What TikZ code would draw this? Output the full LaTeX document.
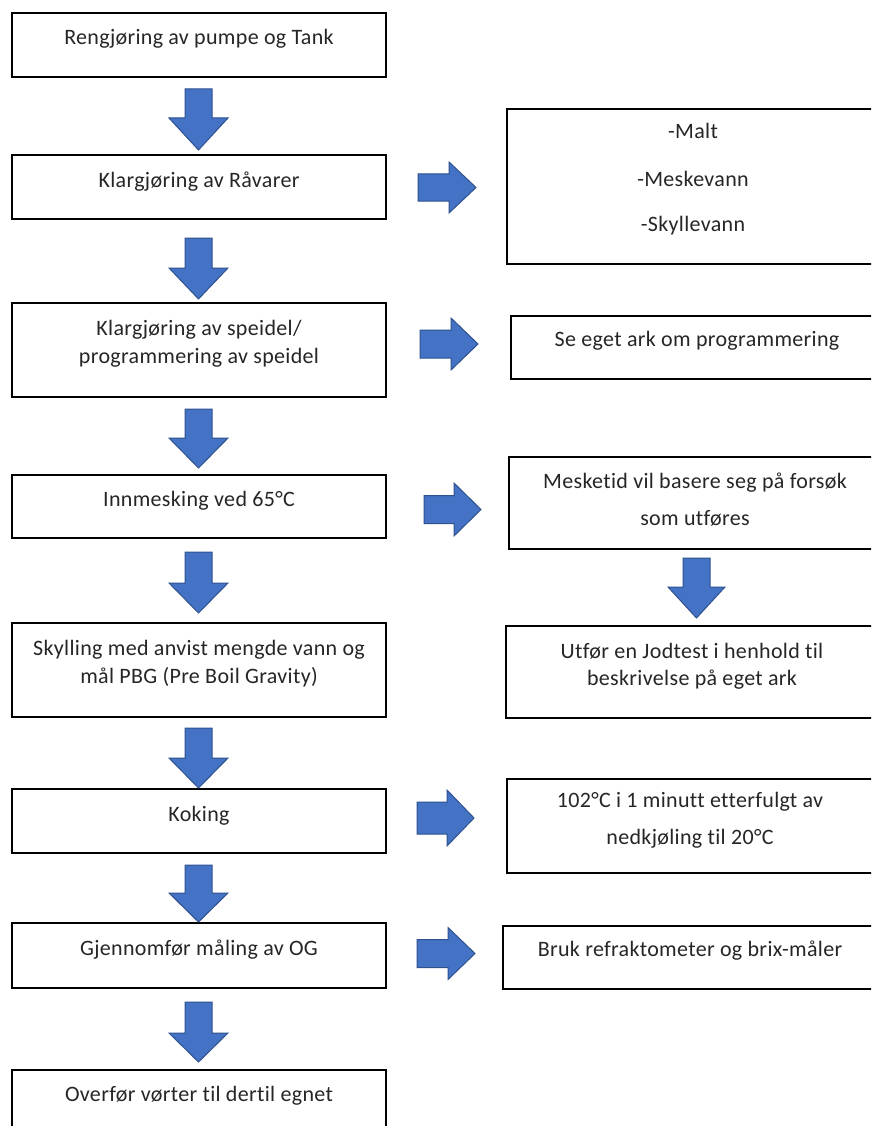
\documentclass[tikz,border=0pt]{standalone}
\usepackage{fontspec}
\setmainfont[LetterSpace=1.5,Ligatures=NoCommon]{Carlito}
\definecolor{arrfill}{HTML}{4472C4}
\definecolor{arrline}{HTML}{2F528F}
\newcommand\blockdown[6]{%
  \draw[blk] ({#1-#5},#2) -- ({#1+#5},#2) -- ({#1+#5},#3) -- ({#1+#6},#3) -- (#1,#4) -- ({#1-#6},#3) -- ({#1-#5},#3) -- cycle;}
\newcommand\blockright[6]{%
  \draw[blk] (#1,{#4-#5}) -- (#2,{#4-#5}) -- (#2,{#4-#6}) -- (#3,#4) -- (#2,{#4+#6}) -- (#2,{#4+#5}) -- (#1,{#4+#5}) -- cycle;}
\begin{document}
\begin{tikzpicture}[x=1pt,y=-1pt,
  box/.style={draw=black, line width=1.8pt, fill=white, rectangle, inner sep=0pt, outer sep=0pt, anchor=north west},
  txt/.style={font=\fontsize{22}{26}\selectfont, text=black!85, inner sep=0pt, anchor=base},
  blk/.style={fill=arrfill, draw=arrline, line width=1pt, line join=miter}]
\useasboundingbox (0,0) rectangle (871,1126);
\clip (0,0) rectangle (871,1126);
\fill[white] (0,0) rectangle (871,1126);
% left boxes
\node[box, minimum width=374pt, minimum height=64pt] (b1) at (12,13) {};
\node[box, minimum width=374pt, minimum height=64pt] (b2) at (12,155) {};
\node[box, minimum width=374pt, minimum height=94pt] (b3) at (12,303) {};
\node[box, minimum width=374pt, minimum height=63pt] (b4) at (12,475) {};
\node[box, minimum width=374pt, minimum height=94pt] (b5) at (12,623) {};
\node[box, minimum width=374pt, minimum height=64pt] (b6) at (12,789) {};
\node[box, minimum width=374pt, minimum height=65pt] (b7) at (12,923) {};
\node[box, minimum width=374pt, minimum height=80pt] (b8) at (12,1070) {};
% right boxes
\node[box, minimum width=373pt, minimum height=155pt] (r1) at (507,109) {};
\node[box, minimum width=369pt, minimum height=63pt] (r2) at (511,316) {};
\node[box, minimum width=371pt, minimum height=92pt] (r3) at (509,457) {};
\node[box, minimum width=374pt, minimum height=92pt] (r4) at (506,626) {};
\node[box, minimum width=373pt, minimum height=94pt] (r5) at (507,779) {};
\node[box, minimum width=377pt, minimum height=63pt] (r6) at (503,926) {};
% left texts
\node[txt] (t1) at (199,45) {Rengjøring av pumpe og Tank};
\node[txt] (t2) at (199,187) {Klargjøring av Råvarer};
\node[txt] (t3a) at (199,335) {Klargjøring av speidel/};
\node[txt] (t3b) at (199,363) {programmering av speidel};
\node[txt] (t4) at (199,506) {Innmesking ved 65°C};
\node[txt] (t5a) at (199,655) {Skylling med anvist mengde vann og};
\node[txt] (t5b) at (199,683) {mål PBG (Pre Boil Gravity)};
\node[txt] (t6) at (199,821) {Koking};
\node[txt] (t7) at (199,955) {Gjennomfør måling av OG};
\node[txt] (t8) at (199,1101) {Overfør vørter til dertil egnet};
% right texts
\node[txt] (s1a) at (693,139) {-Malt};
\node[txt] (s1b) at (693,186) {-Meskevann};
\node[txt] (s1c) at (693,231) {-Skyllevann};
\node[txt] (s2) at (697,346) {Se eget ark om programmering};
\node[txt] (s3a) at (695,488) {Mesketid vil basere seg på forsøk};
\node[txt] (s3b) at (695,525) {som utføres};
\node[txt] (s4a) at (692,658) {Utfør en Jodtest i henhold til};
\node[txt] (s4b) at (692,685) {beskrivelse på eget ark};
\node[txt] (s5a) at (690,807) {102°C i 1 minutt etterfulgt av};
\node[txt] (s5b) at (690,844) {nedkjøling til 20°C};
\node[txt] (s6) at (690,956) {Bruk refraktometer og brix-måler};
% down block arrows (left column)
\blockdown{198.5}{89}{118}{150}{13.5}{29.5}
\blockdown{198.5}{238}{268}{299}{13.5}{29.5}
\blockdown{198.5}{409}{438}{468}{13.5}{29.5}
\blockdown{198.5}{552}{583}{613}{13.5}{29.5}
\blockdown{198.5}{728}{758}{788}{13.5}{29.5}
\blockdown{198.5}{865}{893}{922}{13.5}{29.5}
\blockdown{198.5}{1002}{1033}{1062}{13.5}{29.5}
% right block arrows
\blockright{418}{449}{476}{187.5}{13.5}{25.5}
\blockright{420}{451}{478}{344}{14}{26}
\blockright{424}{454}{481}{509.5}{14}{26.5}
\blockright{417}{447}{474}{818}{16}{28}
\blockright{417}{448}{475}{953.5}{14}{26}
% down arrow right column
\blockdown{696.5}{558}{587}{618}{13.5}{28.5}
\end{tikzpicture}
\end{document}
